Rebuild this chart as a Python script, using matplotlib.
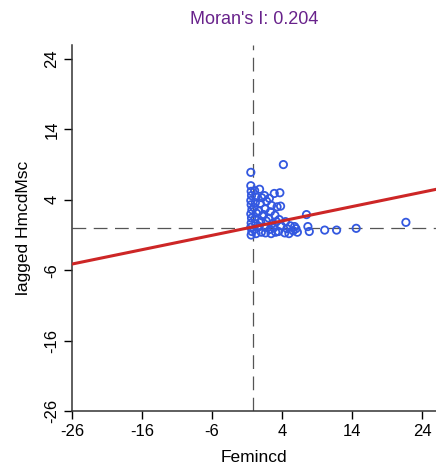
import matplotlib
matplotlib.use("Agg")
import matplotlib.pyplot as plt
import numpy as np

# Moran scatterplot: Femincd vs spatially lagged HmcdMsc
moran_i = 0.204
intercept = 0.18

fem_x = [-0.45, -0.4, -0.35, -0.45, -0.4, -0.3, -0.45, -0.35, -0.4, -0.45, -0.3, -0.4,
         0.1, 0.3, 0.2, 0.0, 0.35, 0.15, 0.25, 0.05, 0.3,
         0.8, 1.1, 0.9, 0.7, 1.2, 0.95, 0.75, 1.05,
         1.5, 1.8, 1.6, 1.4, 1.75, 1.55, 1.65,
         2.2, 2.5, 2.35, 2.1, 2.6, 2.3, 2.45,
         2.9, 3.3, 3.0, 3.2, 2.8, 3.1,
         3.7, 3.8, 3.6, 3.9, 3.5,
         4.5, 4.7, 4.4, 5.2, 5.6, 5.0, 6.0, 6.2, 5.8,
         7.5, 7.7, 7.9,
         10.1, 11.8, 14.6, 21.7, 4.2, -0.45]
lag_y = [6.0, 5.2, 4.6, 3.9, 3.3, 2.6, 2.0, 1.4, 0.7, 0.1, -0.5, -1.0,
         5.3, 4.4, 3.6, 2.9, 2.1, 1.3, 0.6, -0.2, -0.8,
         5.5, 4.3, 3.5, 2.4, 1.7, 0.9, 0.2, -0.6,
         4.6, 3.8, 2.7, 1.9, 1.0, 0.1, -0.7,
         4.2, 3.2, 2.3, 1.4, 0.6, -0.2, -0.8,
         4.9, 3.0, 1.8, 0.9, 0.0, -0.6,
         5.0, 3.1, 1.2, 0.3, -0.5,
         0.9, -0.1, -0.7, 0.3, -0.4, -0.8, -0.1, -0.6, 0.2,
         1.9, 0.2, -0.5,
         -0.3, -0.3, -0.05, 0.8, 9.0, 7.9]
ticks = [-26, -16, -6, 4, 14, 24]

plt.rcParams['font.family'] = ['Liberation Sans', 'DejaVu Sans']
plt.rcParams['axes.unicode_minus'] = False

fig = plt.figure(figsize=(4.36, 4.72), dpi=100)
ax = fig.add_axes([0.165, 0.129, 0.835, 0.776])

ax.axvline(-0.15, color='#555555', lw=0.9, ls=(0, (11, 6)), zorder=1)
ax.axhline(0, color='#555555', lw=0.9, ls=(0, (11, 6)), zorder=1)

ax.scatter(fem_x, lag_y, s=28, facecolors='none', edgecolors='#3358e0',
           linewidths=1.3, zorder=2)

xx = np.array([-26, 26])
ax.plot(xx, intercept + moran_i * xx, color='#cd2626', lw=2.2, zorder=3)

ax.set_xlim(-26, 26)
ax.set_ylim(-26, 26)
ax.set_xticks(ticks)
ax.set_yticks(ticks)
ax.tick_params(direction='out', length=6, width=1, labelsize=12, pad=3)
for lab in ax.get_yticklabels():
    lab.set_rotation(90)
    lab.set_va('center')
for s in ['top', 'right']:
    ax.spines[s].set_visible(False)
for s in ['left', 'bottom']:
    ax.spines[s].set_color('#333333')
    ax.spines[s].set_linewidth(1.1)

ax.set_xlabel('Femincd', fontsize=12.5, labelpad=8)
ax.set_ylabel('lagged HmcdMsc', fontsize=12.5, labelpad=10)
ax.set_title("Moran's I: 0.204", fontsize=13, color='#68228b', pad=15)

fig.savefig('out.png', dpi=100)
